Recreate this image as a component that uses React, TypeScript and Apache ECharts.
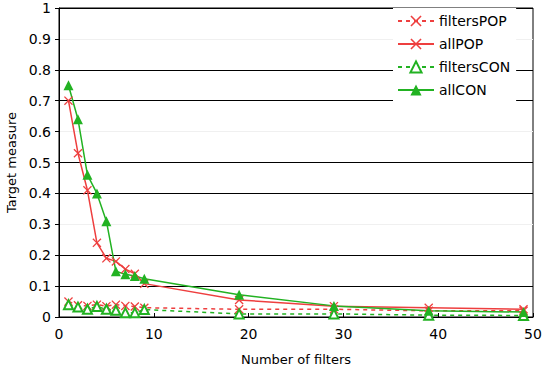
import React, { useEffect, useRef } from "react";
import * as echarts from "echarts";

const xValues = [1, 2, 3, 4, 5, 6, 7, 8, 9, 19, 29, 39, 49];
const filtersPOP = [0.05, 0.038, 0.036, 0.04, 0.035, 0.04, 0.036, 0.034, 0.03, 0.025, 0.025, 0.02, 0.02];
const allPOP = [0.7, 0.53, 0.41, 0.24, 0.19, 0.18, 0.155, 0.14, 0.108, 0.055, 0.035, 0.03, 0.025];
const filtersCON = [0.04, 0.032, 0.025, 0.034, 0.025, 0.022, 0.014, 0.014, 0.024, 0.01, 0.01, 0.006, 0.005];
const allCON = [0.75, 0.64, 0.46, 0.4, 0.31, 0.148, 0.138, 0.133, 0.124, 0.072, 0.036, 0.02, 0.016];

const RED = "#ee3f3f";
const GREEN = "#22b222";
const CROSS = "path://M0,1L1,0L5,4L9,0L10,1L6,5L10,9L9,10L5,6L1,10L0,9L4,5Z";

function pairs(ys: number[]) {
  return xValues.map((x, i) => [x, ys[i]]);
}

export default function App() {
  const ref = useRef<HTMLDivElement>(null);
  useEffect(() => {
    if (!ref.current) return;
    const chart = echarts.init(ref.current, null, { renderer: "svg" });
    const font = "DejaVu Sans";
    chart.setOption({
      animation: false,
      textStyle: { fontFamily: font },
      grid: {
        left: 59,
        right: 9,
        top: 8,
        bottom: 61,
        show: true,
        borderColor: "#000",
        borderWidth: 1,
        backgroundColor: "transparent",
        outerBoundsMode: "none",
        containLabel: false,
      },
      legend: {
        orient: "vertical",
        left: 393,
        top: 8,
        padding: [6, 6, 7, 4],
        backgroundColor: "#fff",
        itemWidth: 36,
        itemHeight: 14,
        itemGap: 9,
        textStyle: { fontFamily: font, fontSize: 14, color: "#000" },
        data: ["filtersPOP", "allPOP", "filtersCON", "allCON"],
      },
      xAxis: {
        type: "value",
        min: 0,
        max: 50,
        interval: 10,
        name: "Number of filters",
        nameLocation: "middle",
        nameGap: 36,
        nameTextStyle: { fontFamily: font, fontSize: 13, color: "#000" },
        axisLine: { lineStyle: { color: "#000", width: 1 } },
        axisTick: { inside: true, length: 4, lineStyle: { color: "#000" } },
        axisLabel: { fontFamily: font, fontSize: 14, color: "#000", margin: 10 },
        splitLine: { show: false },
      },
      yAxis: {
        type: "value",
        min: 0,
        max: 1,
        interval: 0.1,
        name: "Target measure",
        nameLocation: "middle",
        nameGap: 40,
        nameTextStyle: { fontFamily: font, fontSize: 13, color: "#000" },
        axisLine: { show: true, lineStyle: { color: "#000", width: 1 } },
        axisTick: { show: true, length: 4, lineStyle: { color: "#000" } },
        axisLabel: { fontFamily: font, fontSize: 14, color: "#000", margin: 8 },
        splitLine: {
          show: true,
          lineStyle: { color: ["#f0f0f0", "#000", "#000"], width: 1 },
        },
      },
      series: [
        {
          name: "filtersPOP",
          type: "line",
          data: pairs(filtersPOP),
          symbol: CROSS,
          symbolSize: 9,
          itemStyle: { color: RED },
          lineStyle: { color: RED, width: 1.5, type: [4, 4] },
        },
        {
          name: "allPOP",
          type: "line",
          data: pairs(allPOP),
          symbol: CROSS,
          symbolSize: 9,
          itemStyle: { color: RED },
          lineStyle: { color: RED, width: 1.5 },
        },
        {
          name: "filtersCON",
          type: "line",
          data: pairs(filtersCON),
          symbol: "emptyTriangle",
          symbolSize: 9,
          itemStyle: { color: GREEN, borderColor: GREEN, borderWidth: 1.2 },
          lineStyle: { color: GREEN, width: 1.5, type: [4, 4] },
        },
        {
          name: "allCON",
          type: "line",
          data: pairs(allCON),
          symbol: "triangle",
          symbolSize: 10,
          itemStyle: { color: GREEN },
          lineStyle: { color: GREEN, width: 1.5 },
        },
      ],
    });
    return () => chart.dispose();
  }, []);
  return <div ref={ref} style={{ width: 542, height: 378, position: "absolute", left: 0, top: 0, background: "#fff" }} />;
}
